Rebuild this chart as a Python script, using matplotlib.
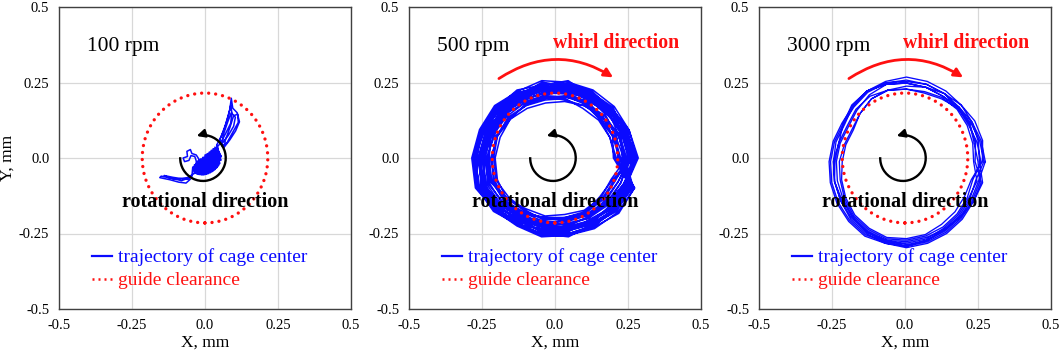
import numpy as np
import matplotlib
matplotlib.use('Agg')
import matplotlib.pyplot as plt
from matplotlib.patches import Circle, Arc, FancyArrowPatch
from matplotlib.lines import Line2D

plt.rcParams['font.family'] = ['Liberation Serif', 'DejaVu Serif']

# ---- data ----
speeds = ['100 rpm', '500 rpm', '3000 rpm']
clearance_radius = 0.215
tick_vals = [-0.5, -0.25, 0.0, 0.25, 0.5]
tick_labels = ['-0.5', '-0.25', '0.0', '0.25', '0.5']

# 100 rpm: crescent-shaped trajectory, (x, y) in mm
traj100 = [
    # tail
    (-0.035, -0.050), (-0.060, -0.065), (-0.100, -0.070), (-0.150, -0.060), (-0.155, -0.065),
    (-0.120, -0.072), (-0.090, -0.080), (-0.065, -0.083), (-0.050, -0.070), (-0.070, -0.070),
    (-0.110, -0.064), (-0.140, -0.058), (-0.120, -0.066), (-0.080, -0.075), (-0.045, -0.062),
    # dense core, first pass
    (-0.042, -0.030), (-0.036, -0.050), (-0.036, -0.022), (-0.028, -0.053), (-0.030, -0.014),
    (-0.020, -0.055), (-0.022, -0.008), (-0.012, -0.056), (-0.015, -0.003), (-0.004, -0.056),
    (-0.008, 0.002), (0.004, -0.054), (0.000, 0.010), (0.011, -0.052), (0.007, 0.014),
    (0.018, -0.049), (0.014, 0.019), (0.025, -0.045), (0.021, 0.025), (0.032, -0.040),
    (0.028, 0.031), (0.039, -0.034), (0.034, 0.036), (0.045, -0.027), (0.040, 0.042),
    (0.050, -0.019), (0.044, 0.030), (0.054, -0.008), (0.048, 0.020), (0.056, 0.004),
    (0.050, 0.012),
    # spike towards upper right
    (0.040, 0.043), (0.055, 0.070), (0.070, 0.110), (0.085, 0.160), (0.090, 0.198),
    (0.095, 0.165), (0.110, 0.150), (0.118, 0.120), (0.105, 0.090), (0.085, 0.060),
    (0.065, 0.035), (0.070, 0.060), (0.085, 0.100), (0.098, 0.140), (0.112, 0.145),
    (0.114, 0.118), (0.095, 0.085), (0.075, 0.050), (0.058, 0.040), (0.062, 0.075),
    (0.078, 0.120), (0.090, 0.150), (0.104, 0.135), (0.098, 0.105), (0.080, 0.075),
    (0.060, 0.050), (0.050, 0.060), (0.066, 0.095), (0.080, 0.140), (0.088, 0.175),
    (0.092, 0.150), (0.088, 0.115), (0.070, 0.080), (0.054, 0.050),
    # dense core, second pass
    (0.043, 0.038), (0.047, -0.024), (0.037, 0.034), (0.042, -0.031), (0.031, 0.030),
    (0.035, -0.038), (0.024, 0.026), (0.028, -0.043), (0.017, 0.020), (0.021, -0.047),
    (0.010, 0.015), (0.014, -0.050), (0.003, 0.010), (0.007, -0.053), (-0.004, 0.003),
    (0.000, -0.055), (-0.011, -0.003), (-0.008, -0.056), (-0.018, -0.008), (-0.016, -0.055),
    (-0.026, -0.015), (-0.024, -0.054), (-0.034, -0.022), (-0.032, -0.051), (-0.040, -0.032),
    # small loops on the upper left of the core
    (-0.020, -0.005), (-0.030, 0.010), (-0.045, 0.015), (-0.050, 0.028), (-0.062, 0.022),
    (-0.060, 0.005), (-0.075, 0.000), (-0.070, -0.012), (-0.055, -0.008), (-0.048, 0.008),
    (-0.035, 0.005), (-0.030, -0.010),
]

# 500 rpm: radius (mm) of each orbit at fixed angles (deg)
angles500 = [0, 20, 40, 60, 80, 100, 120, 140, 160, 180, 200, 220, 240, 260, 280, 300, 320, 340]
radii500 = [
    [0.28, 0.26, 0.25, 0.255, 0.25, 0.24, 0.25, 0.265, 0.27, 0.28, 0.285, 0.26, 0.25, 0.26, 0.255, 0.26, 0.27, 0.285],
    [0.24, 0.23, 0.22, 0.21, 0.215, 0.22, 0.22, 0.23, 0.24, 0.25, 0.25, 0.24, 0.23, 0.22, 0.21, 0.22, 0.23, 0.24],
    [0.26, 0.25, 0.26, 0.25, 0.24, 0.255, 0.24, 0.25, 0.26, 0.27, 0.28, 0.25, 0.24, 0.25, 0.26, 0.265, 0.26, 0.27],
    [0.21, 0.2, 0.195, 0.19, 0.2, 0.195, 0.2, 0.21, 0.21, 0.22, 0.22, 0.22, 0.21, 0.2, 0.2, 0.205, 0.21, 0.215],
    [0.27, 0.265, 0.24, 0.23, 0.245, 0.25, 0.235, 0.24, 0.255, 0.26, 0.27, 0.265, 0.255, 0.24, 0.245, 0.25, 0.265, 0.28],
    [0.23, 0.24, 0.235, 0.24, 0.23, 0.225, 0.23, 0.22, 0.23, 0.24, 0.245, 0.23, 0.22, 0.235, 0.23, 0.24, 0.25, 0.26],
    [0.285, 0.27, 0.265, 0.26, 0.255, 0.26, 0.255, 0.27, 0.275, 0.285, 0.29, 0.27, 0.26, 0.265, 0.26, 0.27, 0.28, 0.29],
    [0.22, 0.21, 0.2, 0.205, 0.21, 0.2, 0.205, 0.2, 0.21, 0.21, 0.215, 0.205, 0.2, 0.21, 0.2, 0.21, 0.215, 0.22],
    [0.25, 0.245, 0.25, 0.245, 0.235, 0.24, 0.25, 0.255, 0.25, 0.265, 0.265, 0.25, 0.245, 0.23, 0.24, 0.25, 0.245, 0.255],
    [0.265, 0.255, 0.23, 0.225, 0.225, 0.235, 0.245, 0.245, 0.265, 0.275, 0.275, 0.255, 0.235, 0.25, 0.25, 0.235, 0.255, 0.275],
    [0.2, 0.21, 0.215, 0.2, 0.19, 0.185, 0.19, 0.2, 0.2, 0.205, 0.21, 0.215, 0.195, 0.195, 0.19, 0.2, 0.205, 0.205],
    [0.245, 0.235, 0.21, 0.22, 0.235, 0.21, 0.215, 0.235, 0.245, 0.255, 0.26, 0.245, 0.215, 0.225, 0.22, 0.23, 0.24, 0.25],
    [0.275, 0.26, 0.245, 0.24, 0.26, 0.245, 0.26, 0.26, 0.27, 0.27, 0.28, 0.26, 0.25, 0.255, 0.265, 0.255, 0.275, 0.28],
    [0.235, 0.22, 0.225, 0.23, 0.22, 0.23, 0.225, 0.235, 0.22, 0.235, 0.24, 0.235, 0.225, 0.215, 0.225, 0.23, 0.22, 0.23],
    [0.255, 0.24, 0.235, 0.22, 0.205, 0.205, 0.21, 0.225, 0.235, 0.245, 0.255, 0.25, 0.24, 0.23, 0.235, 0.245, 0.25, 0.26],
    [0.27, 0.25, 0.24, 0.235, 0.24, 0.235, 0.24, 0.255, 0.265, 0.27, 0.28, 0.265, 0.245, 0.245, 0.245, 0.255, 0.265, 0.275],
    [0.215, 0.225, 0.21, 0.2, 0.195, 0.205, 0.21, 0.215, 0.225, 0.23, 0.235, 0.21, 0.205, 0.205, 0.21, 0.215, 0.225, 0.23],
    [0.26, 0.265, 0.255, 0.25, 0.25, 0.25, 0.245, 0.26, 0.26, 0.275, 0.285, 0.27, 0.255, 0.255, 0.255, 0.26, 0.27, 0.28],
    [0.225, 0.215, 0.205, 0.215, 0.22, 0.215, 0.225, 0.225, 0.235, 0.225, 0.23, 0.225, 0.21, 0.215, 0.215, 0.22, 0.235, 0.24],
    [0.25, 0.26, 0.245, 0.235, 0.225, 0.245, 0.23, 0.24, 0.25, 0.255, 0.27, 0.245, 0.23, 0.24, 0.235, 0.24, 0.26, 0.265],
    [0.24, 0.23, 0.24, 0.25, 0.245, 0.23, 0.235, 0.245, 0.24, 0.245, 0.26, 0.24, 0.235, 0.225, 0.23, 0.225, 0.235, 0.25],
    [0.28, 0.27, 0.255, 0.245, 0.235, 0.24, 0.25, 0.25, 0.26, 0.28, 0.285, 0.275, 0.255, 0.26, 0.26, 0.265, 0.285, 0.29],
    [0.205, 0.2, 0.2, 0.21, 0.205, 0.21, 0.2, 0.205, 0.215, 0.215, 0.225, 0.225, 0.215, 0.2, 0.205, 0.21, 0.2, 0.21],
    [0.26, 0.245, 0.23, 0.23, 0.23, 0.22, 0.22, 0.23, 0.245, 0.26, 0.265, 0.255, 0.24, 0.245, 0.24, 0.245, 0.255, 0.26],
]
center500 = (0.0, 0.0)

# 3000 rpm: radius (mm) of each orbit at fixed angles (deg)
angles3000 = [0, 15, 30, 45, 60, 75, 90, 105, 120, 135, 150, 165,
              180, 195, 210, 225, 240, 255, 270, 285, 300, 315, 330, 345]
radii3000 = [
    [0.27, 0.265, 0.26, 0.265, 0.27, 0.275, 0.28, 0.275, 0.27, 0.26, 0.255, 0.26, 0.265, 0.27, 0.275, 0.28, 0.285, 0.28, 0.285, 0.28, 0.275, 0.27, 0.265, 0.27],
    [0.25, 0.255, 0.26, 0.255, 0.25, 0.255, 0.26, 0.265, 0.255, 0.24, 0.23, 0.235, 0.24, 0.245, 0.25, 0.26, 0.27, 0.275, 0.27, 0.265, 0.255, 0.25, 0.245, 0.25],
    [0.23, 0.235, 0.24, 0.245, 0.245, 0.24, 0.24, 0.245, 0.24, 0.225, 0.21, 0.215, 0.22, 0.23, 0.24, 0.25, 0.255, 0.26, 0.255, 0.25, 0.24, 0.235, 0.23, 0.23],
    [0.26, 0.27, 0.27, 0.265, 0.26, 0.265, 0.27, 0.27, 0.265, 0.255, 0.25, 0.255, 0.26, 0.265, 0.27, 0.275, 0.28, 0.275, 0.28, 0.275, 0.27, 0.265, 0.26, 0.26],
    [0.245, 0.24, 0.25, 0.255, 0.26, 0.255, 0.25, 0.245, 0.25, 0.245, 0.235, 0.24, 0.25, 0.255, 0.26, 0.265, 0.27, 0.27, 0.265, 0.26, 0.26, 0.255, 0.25, 0.245],
    [0.265, 0.26, 0.255, 0.25, 0.25, 0.255, 0.26, 0.265, 0.27, 0.265, 0.25, 0.24, 0.245, 0.255, 0.26, 0.27, 0.275, 0.28, 0.28, 0.27, 0.265, 0.26, 0.265, 0.265],
    [0.235, 0.245, 0.25, 0.25, 0.24, 0.235, 0.24, 0.245, 0.24, 0.225, 0.215, 0.22, 0.23, 0.235, 0.245, 0.255, 0.26, 0.265, 0.26, 0.255, 0.25, 0.245, 0.24, 0.235],
    [0.255, 0.25, 0.245, 0.25, 0.26, 0.265, 0.265, 0.27, 0.27, 0.26, 0.245, 0.25, 0.25, 0.255, 0.255, 0.26, 0.265, 0.27, 0.275, 0.27, 0.26, 0.26, 0.255, 0.255],
]
center3000 = (0.005, -0.012)


def orbit_xy(angles, radii, center):
    th = np.deg2rad(np.array(angles * len(radii) + angles[:1]))
    r = np.concatenate([np.array(radii).ravel(), [radii[0][0]]])
    return center[0] + r * np.cos(th), center[1] + r * np.sin(th)


x100, y100 = zip(*traj100)
x500, y500 = orbit_xy(angles500, radii500, center500)
x3000, y3000 = orbit_xy(angles3000, radii3000, center3000)
trajs = [(x100, y100), (x500, y500), (x3000, y3000)]
traj_lw = [1.1, 1.1, 0.95]

BLUE = '#0a0aff'
RED = '#ff1010'

fig = plt.figure(figsize=(10.59, 3.53), dpi=100)
lefts = [59, 409, 759]
W, H = 1059.0, 353.0

for i, (label, (tx, ty)) in enumerate(zip(speeds, trajs)):
    ax = fig.add_axes([lefts[i] / W, 1 - 309 / H, 292 / W, 302 / H])
    ax.set_xlim(-0.5, 0.5)
    ax.set_ylim(-0.5, 0.5)
    ax.set_xticks(tick_vals)
    ax.set_yticks(tick_vals)
    ax.set_xticklabels(tick_labels)
    ax.set_yticklabels(tick_labels)
    ax.tick_params(length=0, labelsize=10.5, pad=7)
    ax.grid(True, color='#d8d8d8', lw=0.9)
    ax.set_axisbelow(True)
    for sp in ax.spines.values():
        sp.set_color('#404040')
        sp.set_linewidth(1.0)

    ax.plot(tx, ty, color=BLUE, lw=traj_lw[i], zorder=3)

    c = Circle((0, 0), clearance_radius, fill=False, ec=RED, lw=2.4,
               ls=(0, (0.01, 2.1)), zorder=4)
    c.set_capstyle('round')
    ax.add_patch(c)

    # rotational direction arrow
    cx, rx, ry = -0.007, 0.078, 0.076
    ax.add_patch(Arc((cx, 0.0), 2 * rx, 2 * ry, theta1=178, theta2=440,
                     color='k', lw=1.7, zorder=5))
    a0, a1 = np.deg2rad(80), np.deg2rad(113)
    ax.annotate('', xy=(cx + rx * np.cos(a1), ry * np.sin(a1)),
                xytext=(cx + rx * np.cos(a0), ry * np.sin(a0)),
                arrowprops=dict(arrowstyle='-|>', color='k', lw=1.7,
                                mutation_scale=12,
                                connectionstyle='arc3,rad=0.15'),
                zorder=5)
    ax.text(0.0, -0.145, 'rotational direction', ha='center', va='center',
            fontsize=14.5, fontweight='bold', color='k', zorder=6)

    ax.text(-0.405, 0.37, label, ha='left', va='center', fontsize=15.5,
            color='k')

    if i > 0:
        ax.add_patch(FancyArrowPatch((-0.2, 0.258), (0.207, 0.262),
                                     connectionstyle='arc3,rad=-0.33',
                                     arrowstyle='-|>', mutation_scale=13,
                                     color=RED, lw=2.0, zorder=5))
        ax.text(0.208, 0.38, 'whirl direction', ha='center', va='center',
                fontsize=14.3, fontweight='bold', color=RED)

    handles = [Line2D([], [], color=BLUE, lw=1.6),
               Line2D([], [], color=RED, lw=1.8, ls=(0, (0.8, 1.6)))]
    ax.legend(handles, ['trajectory of cage center', 'guide clearance'],
              loc='upper left', bbox_to_anchor=(0.113, 0.2), frameon=False,
              fontsize=14, handlelength=1.05, handletextpad=0.28,
              labelspacing=0.27, borderpad=0, borderaxespad=0,
              labelcolor='linecolor')

    ax.set_xlabel('X, mm', fontsize=12.5, labelpad=2)
    if i == 0:
        ax.set_ylabel('Y, mm', fontsize=12.5, labelpad=2)

fig.savefig('out.png', dpi=100)
